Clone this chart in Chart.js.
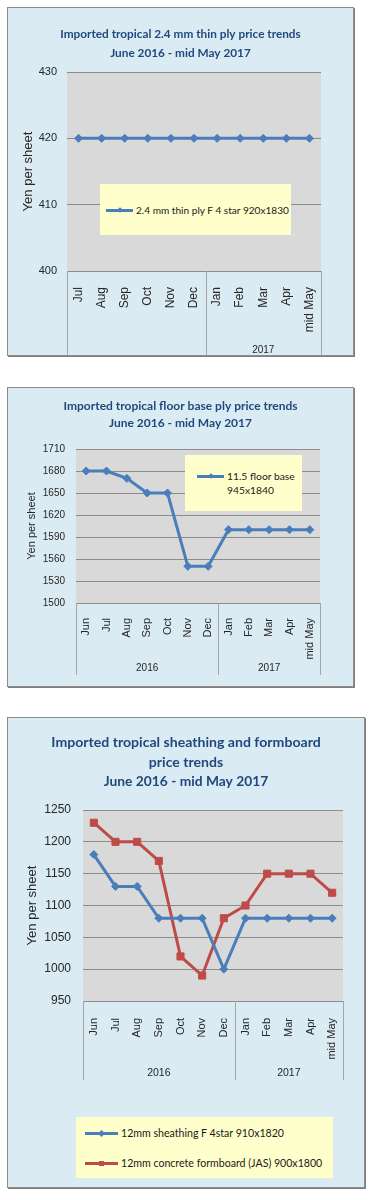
<!DOCTYPE html>
<html><head><meta charset="utf-8">
<script src="https://cdn.jsdelivr.net/npm/chart.js@4.4.0/dist/chart.umd.min.js"></script>
<style>
body{margin:0;background:#fff;width:378px;height:1200px;position:relative;overflow:hidden;}
.panel{position:absolute;box-sizing:border-box;background:#DBEBF3;border:1px solid #8C8C8C;box-shadow:1px 1px 0 #7F7F7F;}
.cv{position:absolute;}
.legend{position:absolute;box-sizing:border-box;background:#FFFFCC;color:#1a1a1a;}
.lrow{position:absolute;display:flex;align-items:flex-start;}
.sym{position:relative;flex:none;}
.sym .ln{position:absolute;left:0;right:0;height:3px;}
.sym .mk{position:absolute;}
</style></head><body>

<script>
// ---------- DATA ----------
// Chart 1: thin ply
const thinMonths = ['Jul','Aug','Sep','Oct','Nov','Dec','Jan','Feb','Mar','Apr','mid May'];
const thinYears = ['', '2017'];
const thinYearSizes = [6, 5];
const thinPly = [420, 420, 420, 420, 420, 420, 420, 420, 420, 420, 420];
const thinYTicks = [400, 410, 420, 430];

// Chart 2: floor base
const floorMonths = ['Jun','Jul','Aug','Sep','Oct','Nov','Dec','Jan','Feb','Mar','Apr','mid May'];
const floorYears = ['2016', '2017'];
const floorYearSizes = [7, 5];
const floorBase = [1680, 1680, 1670, 1650, 1650, 1550, 1550, 1600, 1600, 1600, 1600, 1600];
const floorYTicks = [1500, 1530, 1560, 1590, 1620, 1650, 1680, 1710];

// Chart 3: sheathing & formboard
const sheathMonths = ['Jun','Jul','Aug','Sep','Oct','Nov','Dec','Jan','Feb','Mar','Apr','mid May'];
const sheathYears = ['2016', '2017'];
const sheathYearSizes = [7, 5];
const sheathing = [1180, 1130, 1130, 1080, 1080, 1080, 1000, 1080, 1080, 1080, 1080, 1080];
const formboard = [1230, 1200, 1200, 1170, 1020, 990, 1080, 1100, 1150, 1150, 1150, 1120];
const sheathYTicks = [950, 1000, 1050, 1100, 1150, 1200, 1250];

// ---------- STYLE ----------
const HUM = "Lato, 'Liberation Sans', sans-serif";
const SANS = "'Liberation Sans', Arial, sans-serif";
const BLUE = '#4A7EBB', RED = '#BE4B48', TITLE = '#1F497D', GRID = '#8C8C8C', SEP = '#A6A6A6';
Chart.defaults.font.family = SANS;
Chart.defaults.color = '#262626';

const mctx = document.createElement('canvas').getContext('2d');
function fitSize(text, family, weight, target) {
  mctx.font = weight + ' 100px ' + family;
  return Math.round(1000 * target / mctx.measureText(text).width) / 10;
}

const plotBg = {
  id: 'plotBg',
  beforeDraw(chart) {
    const {ctx, chartArea: a} = chart;
    ctx.save(); ctx.fillStyle = '#D9D9D9';
    ctx.fillRect(a.left, a.top, a.right - a.left, a.bottom - a.top);
    ctx.restore();
  }
};

const yearGroups = {
  id: 'yearGroups',
  afterDraw(chart, args, o) {
    const {ctx, chartArea: a} = chart, xs = chart.scales.x;
    ctx.save();
    ctx.font = o.fontSize + 'px ' + SANS; ctx.fillStyle = '#262626';
    ctx.textAlign = 'center'; ctx.textBaseline = 'middle';
    const bounds = []; let start = 0;
    o.labels.forEach((lab, i) => {
      const end = start + o.sizes[i];
      const x0 = xs.getPixelForValue(start - 0.5), x1 = xs.getPixelForValue(end - 0.5);
      if (i === 0) bounds.push(x0);
      bounds.push(x1);
      if (lab) ctx.fillText(lab, (x0 + x1) / 2, a.bottom + o.labelOffset);
      start = end;
    });
    ctx.strokeStyle = SEP; ctx.lineWidth = 1;
    bounds.forEach(b => {
      const x = Math.round(b) + 0.5;
      ctx.beginPath(); ctx.moveTo(x, a.bottom); ctx.lineTo(x, a.bottom + o.lineLength); ctx.stroke();
    });
    ctx.restore();
  }
};

function makePanel(g) {
  const p = document.createElement('div');
  p.className = 'panel';
  Object.assign(p.style, {left: g.x + 'px', top: g.y + 'px', width: g.w + 'px', height: g.h + 'px'});
  document.body.appendChild(p);
  const c = document.createElement('canvas');
  c.className = 'cv'; c.width = g.w; c.height = g.h;
  Object.assign(c.style, {left: g.x + 'px', top: g.y + 'px', width: g.w + 'px', height: g.h + 'px'});
  document.body.appendChild(c);
  return c;
}

function makeChart(g, d) {
  const canvas = makePanel(g);
  const titleSize = fitSize(d.title[0], HUM, 'bold', g.titleW);
  const plugins = {
    legend: { display: false },
    tooltip: { enabled: false },
    title: {
      display: true, text: d.title, color: TITLE,
      font: { family: HUM, size: titleSize, weight: 'bold', lineHeight: g.titleLH + 'px' },
      padding: { top: g.titlePadTop, bottom: g.titlePadBottom }
    },
    yearGroups: { labels: d.years, sizes: d.yearSizes, fontSize: g.yearSize, labelOffset: g.yearOffset, lineLength: g.sepLength }
  };
  if (d.subtitle) {
    plugins.subtitle = {
      display: true, text: d.subtitle, color: TITLE,
      font: { family: HUM, size: fitSize(d.subtitle, HUM, 'bold', g.subW), weight: 'bold', lineHeight: g.titleLH + 'px' },
      padding: { top: 0, bottom: g.subPadBottom }
    };
  }
  return new Chart(canvas, {
    type: 'line',
    data: { labels: d.labels, datasets: d.datasets },
    plugins: [plotBg, yearGroups],
    options: {
      responsive: false, animation: false, devicePixelRatio: 1,
      layout: { padding: 0 },
      elements: { line: { tension: 0, borderWidth: 3 } },
      plugins,
      scales: {
        x: {
          offset: true,
          grid: { display: false },
          border: { display: true, color: GRID },
          ticks: { autoSkip: false, minRotation: 90, maxRotation: 90, padding: g.xPad, font: { size: g.xSize }, color: '#262626' },
          afterFit(s) { s.height = g.xHeight; }
        },
        y: {
          min: d.yTicks[0], max: d.yTicks[d.yTicks.length - 1],
          afterBuildTicks(s) { s.ticks = d.yTicks.map(v => ({ value: v })); },
          grid: { color: GRID, drawTicks: false },
          border: { display: false },
          ticks: { padding: g.yPad, font: { size: g.ySize }, color: '#262626', callback: v => String(v) },
          title: { display: true, text: 'Yen per sheet', color: '#262626', font: { size: g.yTitleSize }, padding: { top: g.yTitlePad, bottom: 0 } },
          afterFit(s) { s.width = g.yWidth; }
        },
        rightGap: {
          type: 'linear', position: 'right', display: true,
          grid: { display: false }, border: { display: false }, ticks: { display: false },
          afterFit(s) { s.width = g.padRight; }
        }
      }
    }
  });
}

function makeLegend(chart, box) {
  const L = document.createElement('div');
  L.className = 'legend';
  Object.assign(L.style, {left: box.x + 'px', top: box.y + 'px', width: box.w + 'px', height: box.h + 'px'});
  const fs = fitSize(box.fitText, HUM, 'normal', box.fitW);
  chart.data.datasets.forEach((ds, i) => {
    const row = document.createElement('div');
    row.className = 'lrow';
    row.style.left = box.padLeft + 'px';
    row.style.top = (box.firstRowY + i * box.rowGap - box.lineH / 2) + 'px';
    const sym = document.createElement('div');
    sym.className = 'sym';
    Object.assign(sym.style, {width: box.symW + 'px', height: box.lineH + 'px'});
    const ln = document.createElement('div'); ln.className = 'ln';
    Object.assign(ln.style, {top: (box.lineH / 2 - 1.5) + 'px', background: ds.borderColor});
    const mk = document.createElement('div'); mk.className = 'mk';
    const m = box.mark;
    Object.assign(mk.style, {width: m + 'px', height: m + 'px', left: (box.symW / 2 - m / 2) + 'px', top: (box.lineH / 2 - m / 2) + 'px', background: ds.borderColor});
    if (ds.pointStyle === 'rectRot') mk.style.transform = 'rotate(45deg)';
    sym.appendChild(ln); sym.appendChild(mk);
    const tx = document.createElement('div');
    tx.textContent = ds.label;
    Object.assign(tx.style, {fontFamily: HUM, fontSize: fs + 'px', lineHeight: box.lineH + 'px', marginLeft: box.gap + 'px', width: box.textW ? box.textW + 'px' : 'auto', whiteSpace: box.textW ? 'normal' : 'nowrap'});
    row.appendChild(sym); row.appendChild(tx);
    L.appendChild(row);
  });
  document.body.appendChild(L);
}

function series(label, data, color, style, r) {
  return { label, data, borderColor: color, backgroundColor: color, pointStyle: style, pointRadius: r, pointBorderWidth: 1, pointBorderColor: color };
}

// ---------- CHART 1 ----------
const ch1 = makeChart(
  { x: 7, y: 7, w: 347, h: 349, padRight: 33, titleW: 241, titleLH: 19, titlePadTop: 17.5, titlePadBottom: 9.5,
    xHeight: 85, xPad: 8, xSize: 12, yWidth: 60, yPad: 10, ySize: 11, yTitleSize: 13, yTitlePad: 13.2,
    yearSize: 10, yearOffset: 79, sepLength: 84 },
  { labels: thinMonths, years: thinYears, yearSizes: thinYearSizes, yTicks: thinYTicks,
    title: ['Imported tropical 2.4 mm thin ply price trends', 'June 2016 - mid May 2017'],
    datasets: [series('2.4 mm thin ply F 4 star 920x1830', thinPly, BLUE, 'rectRot', 4)] }
);
makeLegend(ch1, { x: 100, y: 184, w: 191, h: 51, padLeft: 6, firstRowY: 26, rowGap: 0, lineH: 14, symW: 27, gap: 3, mark: 4,
  fitText: '2.4 mm thin ply F 4 star 920x1830', fitW: 153 });

// ---------- CHART 2 ----------
const ch2 = makeChart(
  { x: 7, y: 387, w: 347, h: 300, padRight: 34, titleW: 234, titleLH: 17, titlePadTop: 10.5, titlePadBottom: 17.5,
    xHeight: 84, xPad: 7, xSize: 11, yWidth: 69, yPad: 11, ySize: 10, yTitleSize: 11, yTitlePad: 18.4,
    yearSize: 10, yearOffset: 65, sepLength: 72 },
  { labels: floorMonths, years: floorYears, yearSizes: floorYearSizes, yTicks: floorYTicks,
    title: ['Imported tropical floor base ply price trends', 'June 2016 - mid May 2017'],
    datasets: [series('11.5 floor base 945x1840', floorBase, BLUE, 'rectRot', 4)] }
);
makeLegend(ch2, { x: 185, y: 455, w: 117, h: 56, padLeft: 12, firstRowY: 21, rowGap: 0, lineH: 14, symW: 27, gap: 3, mark: 4, textW: 72,
  fitText: '11.5 floor base', fitW: 68 });

// ---------- CHART 3 ----------
const ch3 = makeChart(
  { x: 7, y: 717, w: 358, h: 471, padRight: 22, titleW: 269, titleLH: 20, titlePadTop: 15, titlePadBottom: 0,
    subW: 164, subPadBottom: 18,
    xHeight: 187, xPad: 9, xSize: 11, yWidth: 76, yPad: 12, ySize: 12, yTitleSize: 13, yTitlePad: 17.2,
    yearSize: 10.5, yearOffset: 72, sepLength: 79 },
  { labels: sheathMonths, years: sheathYears, yearSizes: sheathYearSizes, yTicks: sheathYTicks,
    title: ['Imported tropical sheathing and formboard', 'price trends'],
    subtitle: 'June 2016 - mid May 2017',
    datasets: [
      series('12mm sheathing F 4star 910x1820', sheathing, BLUE, 'rectRot', 4),
      series('12mm concrete formboard (JAS) 900x1800', formboard, RED, 'rect', 5)
    ] }
);
makeLegend(ch3, { x: 76, y: 1117, w: 257, h: 61, padLeft: 9, firstRowY: 16, rowGap: 30, lineH: 14, symW: 33, gap: 3, mark: 5,
  fitText: '12mm concrete formboard (JAS) 900x1800', fitW: 202 });
</script></body></html>
